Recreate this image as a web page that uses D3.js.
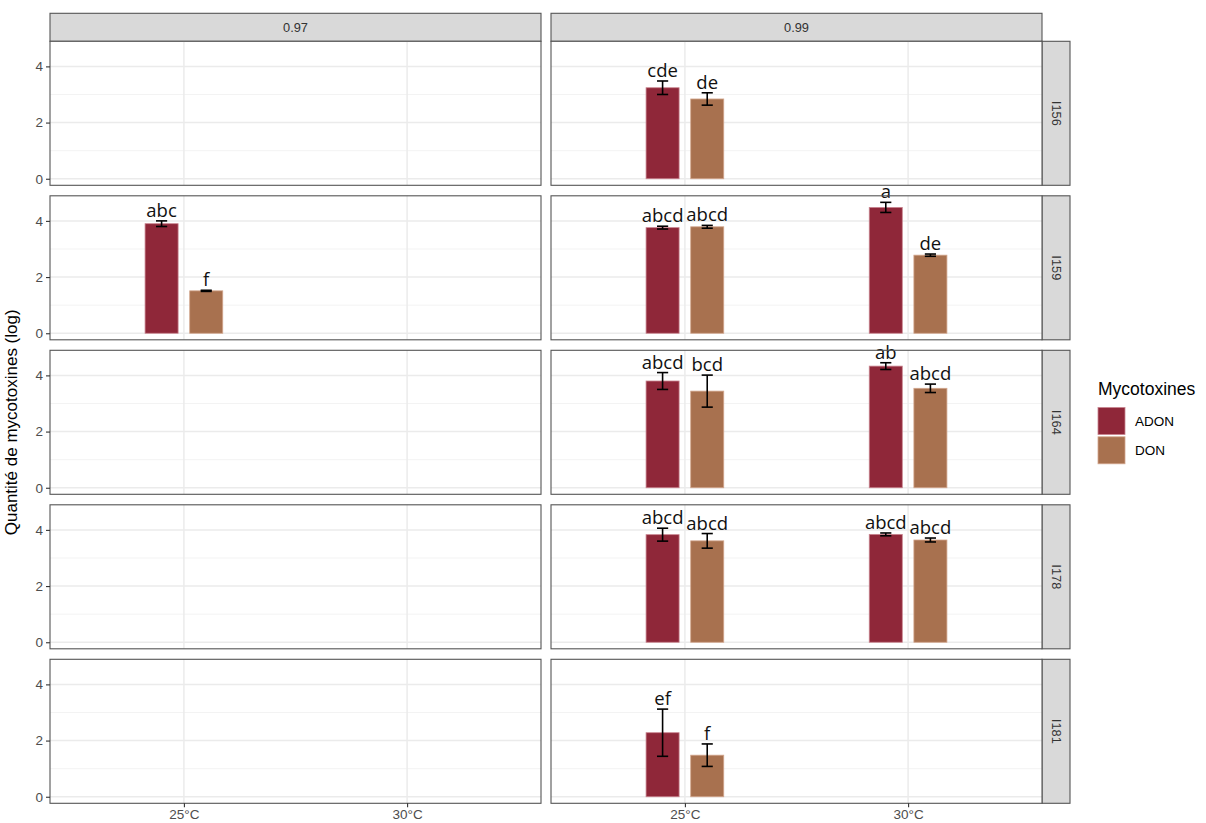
<!DOCTYPE html>
<html>
<head>
<meta charset="utf-8">
<script src="https://cdn.jsdelivr.net/npm/d3@7"></script>
<style>
  html,body{margin:0;padding:0;background:#fff;}
  svg{display:block;}
</style>
</head>
<body>
<svg id="chart" width="1206" height="823"></svg>
<script>
// ---------------- DATA ----------------
const awLevels   = ["0.97", "0.99"];
const isolates   = ["I156", "I159", "I164", "I178", "I181"];
const temps      = ["25°C", "30°C"];
const toxins     = ["ADON", "DON"];
const yTicks     = [0, 2, 4];
const yMinor     = [1, 3];

const recAw     = ["0.99","0.99","0.97","0.97","0.99","0.99","0.99","0.99","0.99","0.99","0.99","0.99","0.99","0.99","0.99","0.99","0.99","0.99"];
const recIso    = ["I156","I156","I159","I159","I159","I159","I159","I159","I164","I164","I164","I164","I178","I178","I178","I178","I181","I181"];
const recTemp   = ["25°C","25°C","25°C","25°C","25°C","25°C","30°C","30°C","25°C","25°C","30°C","30°C","25°C","25°C","30°C","30°C","25°C","25°C"];
const recTox    = ["ADON","DON","ADON","DON","ADON","DON","ADON","DON","ADON","DON","ADON","DON","ADON","DON","ADON","DON","ADON","DON"];
const recMean   = [3.24, 2.84, 3.90, 1.51, 3.76, 3.79, 4.48, 2.78, 3.80, 3.44, 4.33, 3.54, 3.83, 3.61, 3.84, 3.64, 2.28, 1.48];
const recSe     = [0.24, 0.22, 0.10, 0.02, 0.05, 0.05, 0.18, 0.04, 0.30, 0.57, 0.12, 0.15, 0.23, 0.26, 0.05, 0.07, 0.84, 0.40];
const recLetter = ["cde","de","abc","f","abcd","abcd","a","de","abcd","bcd","ab","abcd","abcd","abcd","abcd","abcd","ef","f"];

const toxColors = ["#8F2739", "#A8714F"];
const toxStroke = ["#C9848F", "#D2A68D"];

// ---------------- LAYOUT ----------------
const svg = d3.select("#chart");
const panelLeft0 = 50, panelW = 491, gapX = 10;
const panelTop0 = 41.3, panelH = 144, gapY = 10.5;
const stripH = 28, stripW = 28;

const rows = isolates.map((d, i) => panelTop0 + i * (panelH + gapY));
const cols = awLevels.map((d, i) => panelLeft0 + i * (panelW + gapX));

const data = recMean.map((m, i) => ({
  aw: recAw[i], iso: recIso[i], temp: recTemp[i], tox: recTox[i],
  mean: m, se: recSe[i], letter: recLetter[i]
}));

const ymax = d3.max(data, d => d.mean + d.se);
const ymin = 0;
const ext = (ymax - ymin) * 0.05;
const y = d3.scaleLinear().domain([ymin - ext, ymax + ext]).range([panelH, 0]);
const x = d3.scalePoint().domain(temps).range([0, panelW]).padding(0.6);
const step = x.step();
const dodge = d3.scaleOrdinal().domain(toxins).range([-0.1 * step, 0.1 * step]);
const barW = 0.148 * step;
const capW = 0.05 * step;
const color = d3.scaleOrdinal().domain(toxins).range(toxColors);
const strokeC = d3.scaleOrdinal().domain(toxins).range(toxStroke);

const borderCol = "#555555";

// top strips
awLevels.forEach((aw, ci) => {
  const g = svg.append("g").attr("transform", `translate(${cols[ci]},${panelTop0 - stripH})`);
  g.append("rect").attr("width", panelW).attr("height", stripH)
    .attr("fill", "#D9D9D9").attr("stroke", borderCol).attr("stroke-width", 1.1);
  g.append("text").attr("x", panelW / 2).attr("y", stripH / 2).attr("dy", "0.35em")
    .attr("text-anchor", "middle").attr("font-family", "Liberation Sans, Arial, sans-serif")
    .attr("font-size", 12.8).attr("fill", "#333").text(aw);
});

// right strips
isolates.forEach((iso, ri) => {
  const g = svg.append("g").attr("transform", `translate(${cols[1] + panelW},${rows[ri]})`);
  g.append("rect").attr("width", stripW).attr("height", panelH)
    .attr("fill", "#D9D9D9").attr("stroke", borderCol).attr("stroke-width", 1.1);
  g.append("text").attr("transform", `translate(${stripW / 2},${panelH / 2}) rotate(90)`)
    .attr("dy", "0.35em").attr("text-anchor", "middle")
    .attr("font-family", "Liberation Sans, Arial, sans-serif")
    .attr("font-size", 12.8).attr("fill", "#333").text(iso);
});

// panels
isolates.forEach((iso, ri) => {
  awLevels.forEach((aw, ci) => {
    const g = svg.append("g").attr("transform", `translate(${cols[ci]},${rows[ri]})`);
    g.append("rect").attr("width", panelW).attr("height", panelH).attr("fill", "#fff");
    g.selectAll(".minor").data(yMinor).join("line")
      .attr("x1", 0).attr("x2", panelW).attr("y1", d => y(d)).attr("y2", d => y(d))
      .attr("stroke", "#F3F3F3").attr("stroke-width", 1);
    g.selectAll(".major").data(yTicks).join("line")
      .attr("x1", 0).attr("x2", panelW).attr("y1", d => y(d)).attr("y2", d => y(d))
      .attr("stroke", "#EBEBEB").attr("stroke-width", 1.5);
    g.selectAll(".vmajor").data(temps).join("line")
      .attr("x1", d => x(d)).attr("x2", d => x(d)).attr("y1", 0).attr("y2", panelH)
      .attr("stroke", "#EBEBEB").attr("stroke-width", 1.5);

    const sub = data.filter(d => d.aw === aw && d.iso === iso);
    g.selectAll(".bar").data(sub).join("rect")
      .attr("x", d => x(d.temp) + dodge(d.tox) - barW / 2)
      .attr("width", barW)
      .attr("y", d => y(d.mean))
      .attr("height", d => y(0) - y(d.mean))
      .attr("fill", d => color(d.tox))
      .attr("stroke", d => strokeC(d.tox)).attr("stroke-width", 0.8);
    const eb = g.selectAll(".eb").data(sub).join("g")
      .attr("transform", d => `translate(${x(d.temp) + dodge(d.tox)},0)`);
    eb.append("line").attr("x1", 0).attr("x2", 0)
      .attr("y1", d => y(d.mean + d.se)).attr("y2", d => y(d.mean - d.se))
      .attr("stroke", "#000").attr("stroke-width", 1.6);
    eb.append("line").attr("x1", -capW / 2).attr("x2", capW / 2)
      .attr("y1", d => y(d.mean + d.se)).attr("y2", d => y(d.mean + d.se))
      .attr("stroke", "#000").attr("stroke-width", 1.6);
    eb.append("line").attr("x1", -capW / 2).attr("x2", capW / 2)
      .attr("y1", d => y(d.mean - d.se)).attr("y2", d => y(d.mean - d.se))
      .attr("stroke", "#000").attr("stroke-width", 1.6);
    g.selectAll(".lab").data(sub).join("text")
      .attr("x", d => x(d.temp) + dodge(d.tox))
      .attr("y", d => y(d.mean + d.se) - 4)
      .attr("text-anchor", "middle")
      .attr("font-family", "Open Sans, Noto Sans, sans-serif")
      .attr("font-size", 18.5).attr("fill", "#111").text(d => d.letter);

    g.append("rect").attr("width", panelW).attr("height", panelH)
      .attr("fill", "none").attr("stroke", borderCol).attr("stroke-width", 1.1);

    if (ci === 0) {
      const ax = g.append("g").call(d3.axisLeft(y).tickValues(yTicks).tickSize(4).tickPadding(3).tickFormat(d3.format("d")));
      ax.select(".domain").remove();
      ax.selectAll("line").attr("stroke", "#333").attr("stroke-width", 1.1);
      ax.selectAll("text").attr("font-family", "Liberation Sans, Arial, sans-serif")
        .attr("font-size", 13.5).attr("fill", "#4D4D4D");
    }
    if (ri === isolates.length - 1) {
      const ax = g.append("g").attr("transform", `translate(0,${panelH})`)
        .call(d3.axisBottom(x).tickSize(4).tickPadding(2));
      ax.select(".domain").remove();
      ax.selectAll("line").attr("stroke", "#333").attr("stroke-width", 1.1);
      ax.selectAll("text").attr("font-family", "Liberation Sans, Arial, sans-serif")
        .attr("font-size", 13.5).attr("fill", "#4D4D4D");
    }
  });
});

// y title
const midY = (rows[0] + rows[rows.length - 1] + panelH) / 2;
svg.append("text").attr("transform", `translate(17,${midY}) rotate(-90)`)
  .attr("text-anchor", "middle").attr("font-family", "Liberation Sans, Arial, sans-serif")
  .attr("font-size", 17).attr("fill", "#000").text("Quantité de mycotoxines (log)");

// legend
const lg = svg.append("g").attr("transform", "translate(1098,0)");
lg.append("text").attr("x", 0).attr("y", 395).attr("font-family", "Liberation Sans, Arial, sans-serif")
  .attr("font-size", 17.5).attr("fill", "#000").text("Mycotoxines");
const keyS = 27;
const keys = lg.selectAll(".key").data(toxins).join("g")
  .attr("transform", (d, i) => `translate(0,${407.5 + i * 29.3})`);
keys.append("rect").attr("width", keyS).attr("height", keyS)
  .attr("fill", d => color(d)).attr("stroke", d => strokeC(d)).attr("stroke-width", 0.8);
keys.append("text").attr("x", 37).attr("y", keyS / 2).attr("dy", "0.35em")
  .attr("font-family", "Liberation Sans, Arial, sans-serif")
  .attr("font-size", 13.5).attr("fill", "#000").text(d => d);
</script>
</body>
</html>
